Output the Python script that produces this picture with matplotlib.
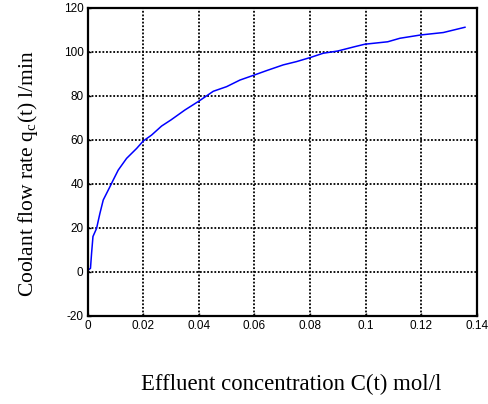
import matplotlib
matplotlib.use("Agg")
from matplotlib import pyplot as plt

plt.rcParams["axes.unicode_minus"] = False

# values
conc = [0.0, 0.0002, 0.0010, 0.0014, 0.0019, 0.0032, 0.0044, 0.0056, 0.0080, 0.0092,
        0.0110, 0.0140, 0.0176, 0.0200, 0.0230, 0.0266, 0.0300, 0.0350, 0.0400,
        0.0452, 0.0500, 0.0548, 0.0600, 0.0644, 0.0704, 0.0752, 0.0800, 0.0848,
        0.0900, 0.0962, 0.0998, 0.1080, 0.1124, 0.1199, 0.1280, 0.1358]
flow = [0.0, 0.8, 1.5, 8.4, 16.0, 19.7, 26.5, 32.6, 38.6, 41.7,
        46.2, 51.5, 56.0, 59.4, 62.1, 66.2, 69.0, 73.5, 77.5,
        82.0, 84.1, 87.1, 89.4, 91.4, 94.0, 95.5, 97.3, 99.3,
        100.3, 102.3, 103.4, 104.5, 106.1, 107.6, 108.7, 111.1]

xticks = [0, 0.02, 0.04, 0.06, 0.08, 0.1, 0.12, 0.14]
xtick_labels = ["0", "0.02", "0.04", "0.06", "0.08", "0.1", "0.12", "0.14"]
yticks = [-20, 0, 20, 40, 60, 80, 100, 120]

fig = plt.figure(figsize=(4.88, 4.04), dpi=100)
ax = fig.add_axes([0.1797, 0.2186, 0.797, 0.7624])

ax.plot(conc, flow, color="#0000ff", lw=1.1)
ax.set_xlim(0, 0.14)
ax.set_ylim(-20, 120)
ax.set_xticks(xticks)
ax.set_xticklabels(xtick_labels)
ax.set_yticks(yticks)

ax.grid(True, color="black", linestyle=(0, (1, 1)), lw=1.3)
for s in ax.spines.values():
    s.set_linewidth(1.6)
ax.tick_params(direction="in", length=2, width=1, labelsize=8.5, pad=3)
for lab in ax.get_xticklabels() + ax.get_yticklabels():
    lab.set_family("Liberation Sans")

fig.text(0.0574, 0.5705, "Coolant flow rate q$_\\mathregular{c}$(t) l/min", rotation=90,
         ha="center", va="center", family="Liberation Serif", fontsize=15.5)
fig.text(0.596, 0.0495, "Effluent concentration C(t) mol/l",
         ha="center", va="center", family="Liberation Serif", fontsize=16.4)

fig.savefig("out.png", dpi=100)
